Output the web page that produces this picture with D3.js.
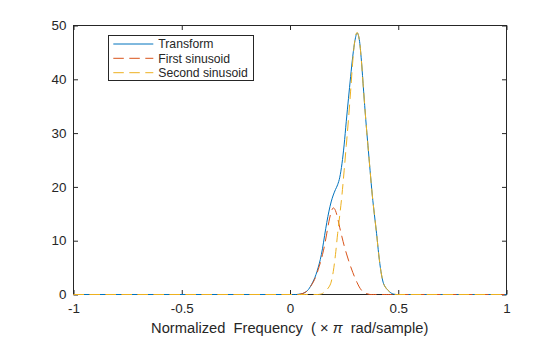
<!DOCTYPE html>
<html>
<head>
<meta charset="utf-8">
<script src="https://cdn.jsdelivr.net/npm/d3@7"></script>
<style>
  body { margin: 0; background: #fff; }
  svg { display: block; font-family: "Liberation Sans", Arial, sans-serif; }
</style>
</head>
<body>
<div id="chart"></div>
<script>
// normalized frequency grid (x pi rad/sample)
var freq = [-1,
  0.00, 0.01, 0.02, 0.03, 0.04, 0.05, 0.06, 0.07, 0.08, 0.09,
  0.10, 0.11, 0.12, 0.13, 0.14, 0.15, 0.16, 0.17, 0.18, 0.19,
  0.20, 0.21, 0.22, 0.23, 0.24, 0.25, 0.26, 0.27, 0.28, 0.29,
  0.30, 0.31, 0.32, 0.33, 0.34, 0.35, 0.36, 0.37, 0.38, 0.39,
  0.40, 0.41, 0.42, 0.43, 0.44, 0.45, 0.46, 0.47, 0.48, 0.49,
  0.50, 1];

var transformMag = [0,
  0, 0, 0, 0, 0.05, 0.1, 0.2, 0.4, 0.7, 1.2,
  1.9, 2.7, 3.7, 5.0, 6.5, 8.5, 11.0, 13.4, 15.5, 17.2,
  18.5, 19.5, 20.4, 21.8, 24.3, 27.8, 32.2, 36.4, 40.5, 44.3,
  47.2, 48.6, 47.4, 43.4, 37.8, 32.5, 27.7, 23.0, 18.5, 14.8,
  11.3, 7.4, 4.3, 2.3, 1.4, 0.9, 0.5, 0.2, 0.05, 0,
  0, 0];

var firstMag = [0,
  0, 0, 0, 0, 0, 0.1, 0.2, 0.4, 0.7, 1.2,
  1.8, 2.5, 3.4, 4.6, 5.9, 7.4, 9.2, 11.4, 13.6, 15.3,
  16.1, 15.6, 14.2, 12.4, 10.7, 9.1, 7.7, 6.4, 5.2, 4.1,
  3.1, 2.2, 1.4, 0.8, 0.4, 0.2, 0.1, 0, 0, 0,
  0, 0, 0, 0, 0, 0, 0, 0, 0, 0,
  0, 0];

var secondMag = [0,
  0, 0, 0, 0, 0, 0, 0, 0, 0, 0,
  0, 0, 0, 0, 0.05, 0.2, 0.5, 0.9, 1.4, 2.3,
  4.3, 7.4, 11.3, 14.8, 18.5, 23.0, 27.7, 32.5, 37.8, 43.4,
  47.4, 48.7, 47.4, 43.4, 37.8, 32.5, 27.7, 23.0, 18.5, 14.8,
  11.3, 7.4, 4.3, 2.3, 1.4, 0.9, 0.5, 0.2, 0.05, 0,
  0, 0];

var seriesNames = ["Transform", "First sinusoid", "Second sinusoid"];
var xTicks = [-1, -0.5, 0, 0.5, 1];
var xTickLabels = ["-1", "-0.5", "0", "0.5", "1"];
var yTicks = [0, 10, 20, 30, 40, 50];

var width = 560,
    height = 337;
var ink = "#262626";
var colors = ["#0072BD", "#D95319", "#EDB120"];

var svg = d3.select("#chart").append("svg")
    .attr("width", width)
    .attr("height", height);

var x = d3.scaleLinear().domain([-1, 1]).range([73.5, 506.5]);
var y = d3.scaleLinear().domain([0, 50]).range([294.5, 25.5]);

// axes, ticks pointing inward
var xAxis = svg.append("g")
    .attr("transform", "translate(0," + y(0) + ")")
    .call(d3.axisBottom(x).tickValues(xTicks)
        .tickFormat(function(d, i) { return xTickLabels[i]; })
        .tickSizeInner(-4.5).tickSizeOuter(0).tickPadding(9.4));

var yAxis = svg.append("g")
    .attr("transform", "translate(" + x(-1) + ",0)")
    .call(d3.axisLeft(y).tickValues(yTicks)
        .tickFormat(function(d) { return String(d); })
        .tickSizeInner(-4.5).tickSizeOuter(0).tickPadding(7));

svg.append("g")
    .attr("transform", "translate(0," + y(50) + ")")
    .call(d3.axisTop(x).tickValues(xTicks).tickFormat("")
        .tickSizeInner(-4.5).tickSizeOuter(0));

svg.append("g")
    .attr("transform", "translate(" + x(1) + ",0)")
    .call(d3.axisRight(y).tickValues(yTicks).tickFormat("")
        .tickSizeInner(-4.5).tickSizeOuter(0));

svg.selectAll(".domain").remove();
svg.selectAll(".tick line").attr("stroke", ink);
svg.selectAll(".tick text")
    .attr("fill", ink)
    .attr("font-size", "13.4px")
    .attr("font-family", "Liberation Sans, Arial, sans-serif");

// box
svg.append("rect")
    .attr("x", x(-1))
    .attr("y", y(50))
    .attr("width", x(1) - x(-1))
    .attr("height", y(0) - y(50))
    .attr("fill", "none")
    .attr("stroke", ink)
    .attr("stroke-width", 1);

// curves
var data = [transformMag, firstMag, secondMag];
var dashes = [null, "10.5,5.5", "10.5,5.5"];

var line = d3.line()
    .x(function(d, i) { return x(freq[i]); })
    .y(function(d) { return y(d); })
    .curve(d3.curveMonotoneX);

var plot = svg.append("g");
data.forEach(function(vals, k) {
    plot.append("path")
        .datum(vals)
        .attr("d", line)
        .attr("fill", "none")
        .attr("stroke", colors[k])
        .attr("stroke-width", 1)
        .attr("stroke-dasharray", dashes[k]);
});

// x label
var xl = svg.append("text")
    .attr("x", 289.7)
    .attr("y", 333)
    .attr("text-anchor", "middle")
    .attr("fill", ink)
    .attr("font-size", "14.7px")
    .style("white-space", "pre");
xl.append("tspan").text("Normalized  Frequency  ( \u00d7 ");
xl.append("tspan").attr("font-style", "italic").text("\u03c0");
xl.append("tspan").text("  rad/sample)");

// legend
var legend = svg.append("g");
legend.append("rect")
    .attr("x", 108.5)
    .attr("y", 35.5)
    .attr("width", 145)
    .attr("height", 45)
    .attr("fill", "#fff")
    .attr("stroke", ink)
    .attr("stroke-width", 1);

var rowY = [44, 58.3, 72.7];
seriesNames.forEach(function(name, k) {
    legend.append("line")
        .attr("x1", 113.3).attr("x2", 153.3)
        .attr("y1", rowY[k]).attr("y2", rowY[k])
        .attr("stroke", colors[k])
        .attr("stroke-width", 1)
        .attr("stroke-dasharray", dashes[k]);
    legend.append("text")
        .attr("x", 158.3)
        .attr("y", rowY[k])
        .attr("dy", "0.35em")
        .attr("fill", ink)
        .attr("font-size", "12.2px")
        .text(name);
});
</script>
</body>
</html>
